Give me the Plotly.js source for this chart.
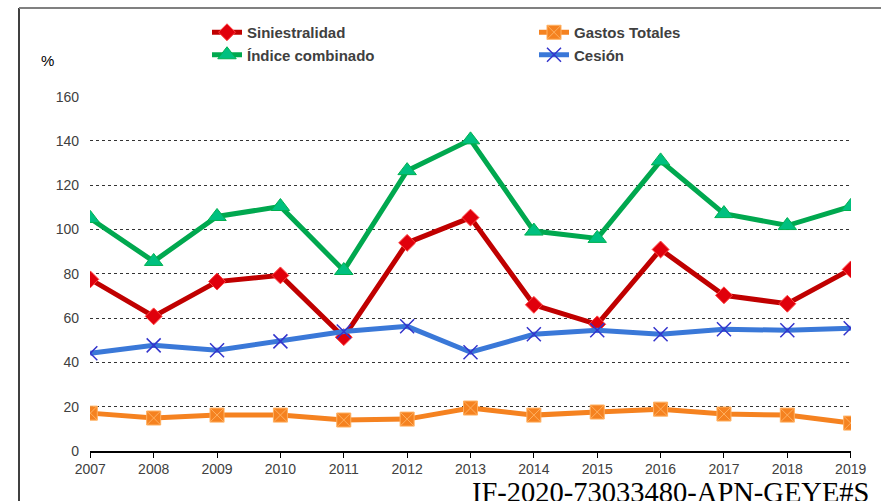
<!DOCTYPE html>
<html>
<head>
<meta charset="utf-8">
<script src="https://cdn.plot.ly/plotly-3.0.1.min.js"></script>
<style>html,body{margin:0;padding:0;background:#fff;}#chart{width:881px;height:501px;}</style>
</head>
<body>
<div id="chart"></div>
<script>
const years = ['2007','2008','2009','2010','2011','2012','2013','2014','2015','2016','2017','2018','2019'];
const siniestralidad = [77.5, 60.8, 76.5, 79.3, 51.4, 94.0, 105.4, 66.0, 57.2, 91.0, 70.3, 66.5, 82.0];
const gastosTotales = [17.1, 14.9, 16.2, 16.2, 14.0, 14.4, 19.4, 16.2, 17.6, 18.9, 16.7, 16.2, 12.6];
const indiceCombinado = [105.0, 85.6, 105.9, 110.4, 81.5, 126.6, 140.5, 99.3, 96.0, 131.0, 107.2, 101.8, 110.4];
const cesion = [44.1, 47.7, 45.5, 49.5, 54.0, 56.3, 44.6, 52.7, 54.5, 52.7, 55.0, 54.5, 55.4];
const yTicks = [0, 20, 40, 60, 80, 100, 120, 140, 160];

const traces = [
  {x: years, y: siniestralidad, name: 'Siniestralidad', type: 'scatter', mode: 'lines+markers',
   line: {color: '#C00000', width: 5},
   marker: {symbol: 'diamond', size: 13, color: '#E0000C', line: {color: '#FF4040', width: 1}}},
  {x: years, y: gastosTotales, name: 'Gastos Totales', type: 'scatter', mode: 'lines+markers',
   line: {color: '#F58220', width: 5},
   marker: {symbol: 'square-x', size: 14, color: '#F58220', line: {color: '#FFB060', width: 1}}},
  {x: years, y: indiceCombinado, name: 'Índice combinado', type: 'scatter', mode: 'lines+markers',
   line: {color: '#00A84F', width: 5},
   marker: {symbol: 'triangle-up', size: 16, color: '#00C080', line: {color: '#00B050', width: 1}}},
  {x: years, y: cesion, name: 'Cesión', type: 'scatter', mode: 'lines+markers',
   line: {color: '#3A78D8', width: 5},
   marker: {symbol: 'x-thin', size: 14, color: '#3333CC', line: {color: '#3333CC', width: 1.5}}}
];

const layout = {
  width: 881, height: 501,
  margin: {l: 90, r: 30, t: 96, b: 50, autoexpand: false},
  paper_bgcolor: '#ffffff', plot_bgcolor: '#ffffff',
  font: {family: 'Liberation Sans, Arial, sans-serif', size: 14, color: '#404040'},
  showlegend: true,
  legend: {orientation: 'h', x: (207 - 90) / 761, xanchor: 'left', y: (451 - 16) / 355, yanchor: 'top',
    entrywidth: 282, entrywidthmode: 'pixels', tracegroupgap: 0, itemwidth: 30, maxheight: 120,
    font: {family: 'Liberation Sans, Arial, sans-serif', size: 15, color: '#404040', weight: 'bold'},
    bgcolor: 'rgba(0,0,0,0)'},
  xaxis: {type: 'category', showgrid: false, showline: true, linecolor: '#000', linewidth: 1.5,
    ticks: 'outside', ticklen: 5, tickcolor: '#000', range: [-0.005, 12.005],
    tickfont: {size: 14, color: '#404040'}, zeroline: false, fixedrange: true},
  yaxis: {range: [0, 160.3], tickvals: yTicks, showgrid: true, gridcolor: '#333333', griddash: 'dot',
    gridwidth: 1, zeroline: false, showline: false, ticks: '', ticklabelstandoff: 10,
    tickfont: {size: 14, color: '#404040'}, fixedrange: true},
  annotations: [
    {text: '%', xref: 'paper', yref: 'paper', x: (47 - 90) / 761, y: (451 - 61) / 355,
     xanchor: 'center', yanchor: 'middle', showarrow: false, font: {size: 15, color: '#000'}},
    {text: 'IF-2020-73033480-APN-GEYE#S', xref: 'paper', yref: 'paper', x: (470 - 90) / 761, y: (451 - 492.5) / 355,
     xanchor: 'left', yanchor: 'middle', showarrow: false,
     font: {family: 'Liberation Serif, Times New Roman, serif', size: 28.5, color: '#000'}}
  ],
  shapes: [
    {type: 'line', xref: 'paper', yref: 'paper', x0: (19 - 90) / 761, x1: (19 - 90) / 761,
     y0: (451 - 8) / 355, y1: (451 - 502) / 355, line: {color: '#000', width: 1.5}},
    {type: 'line', xref: 'paper', yref: 'paper', x0: (19 - 90) / 761, x1: (882 - 90) / 761,
     y0: (451 - 8) / 355, y1: (451 - 8) / 355, line: {color: '#808080', width: 2}}
  ]
};

Plotly.newPlot('chart', traces, layout, {displayModeBar: false, staticPlot: true});
</script>
</body>
</html>
